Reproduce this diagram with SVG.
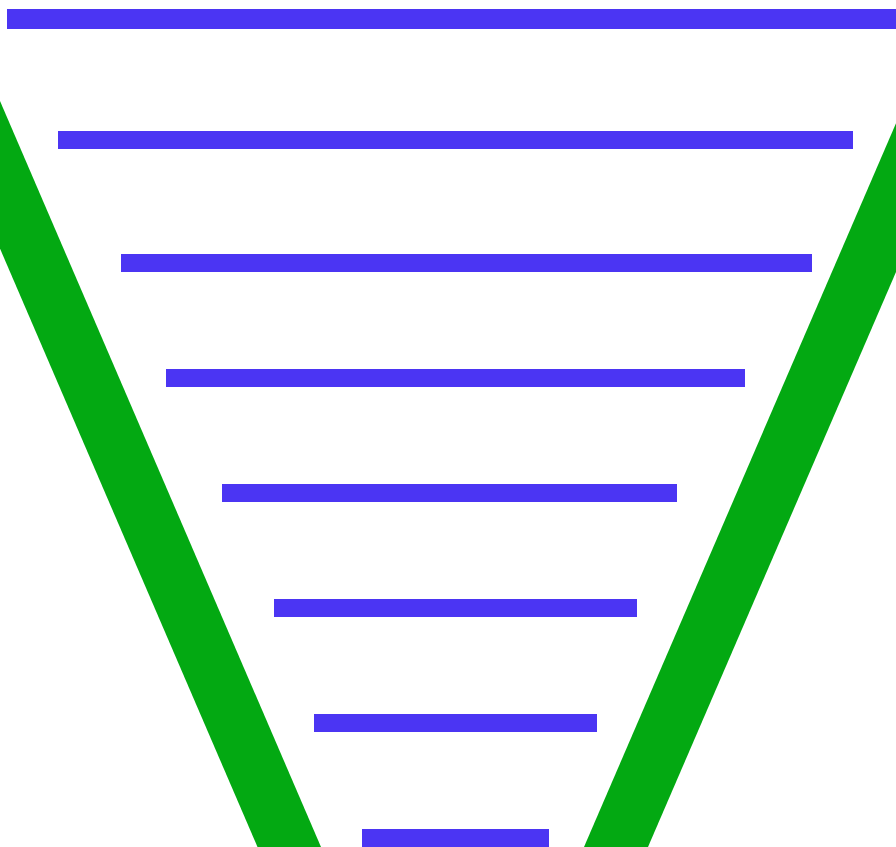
<svg xmlns="http://www.w3.org/2000/svg" width="896" height="847" viewBox="0 0 896 847">
<style>
.bar{fill:#4B35F3}
.wall{fill:#03A912}
</style>
<rect width="896" height="847" fill="#ffffff"/>
<g id="walls">
<polygon class="wall" points="0,101 321,847 257.5,847 0,248.6"/>
<polygon class="wall" points="896,123.3 584,847 648,847 896,272"/>
</g>
<g id="bars">
<rect class="bar" x="7" y="9" width="889" height="20"/>
<rect class="bar" x="58" y="131" width="795" height="18"/>
<rect class="bar" x="121" y="254" width="691" height="18"/>
<rect class="bar" x="166" y="369" width="579" height="18"/>
<rect class="bar" x="222" y="484" width="455" height="18"/>
<rect class="bar" x="274" y="599" width="363" height="18"/>
<rect class="bar" x="314" y="714" width="283" height="18"/>
<rect class="bar" x="362" y="829" width="187" height="18"/>
</g>
</svg>
